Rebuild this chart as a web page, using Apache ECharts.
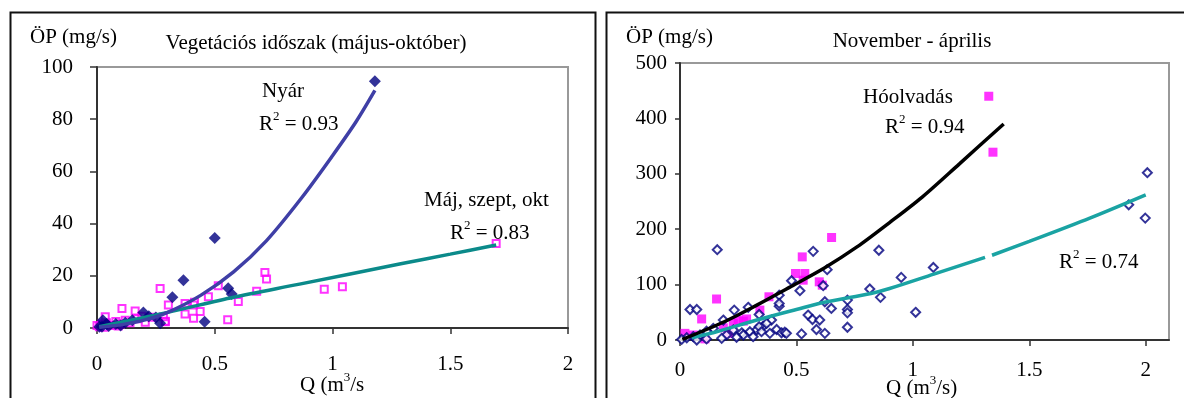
<!DOCTYPE html>
<html><head><meta charset="utf-8">
<script src="https://cdn.jsdelivr.net/npm/echarts@6/dist/echarts.min.js"></script>
<style>html,body{margin:0;padding:0;background:#fff}#c{width:1184px;height:398px}</style>
</head><body><div id="c"></div>
<script>
const FONT = '"Liberation Serif","Times New Roman",serif';

// ---------- Left chart: Vegetációs időszak (május-október) ----------
const leftTitle = 'Vegetációs időszak (május-október)';
const leftXTicks = [0, 0.5, 1, 1.5, 2];
const leftYTicks = [0, 20, 40, 60, 80, 100];
// Nyár (summer) – filled navy diamonds
const nyarPts = [
  [1.18,94.5],[0.50,34.5],[0.367,18.3],[0.32,11.8],[0.557,15.2],[0.572,13],[0.457,2.4],[0.268,1.8],
  [0.197,5.9],[0.22,4.5],[0.025,3],[0.021,0.5],[0.05,0.8],[0.08,1.5],[0.12,2],[0.15,3],[0.25,4],
  [0.01,0.5],[0.1,1],[0.04,1.5]
];
// Máj, szept, okt – hollow magenta squares
const majPts = [
  [1.695,32.4],[0.965,14.8],[1.042,15.8],[0.713,21.3],[0.72,18.8],[0.678,14.1],[0.6,10.2],[0.555,3.2],
  [0.515,16.2],[0.473,12],[0.438,6.3],[0.41,3.7],[0.41,8.8],[0.414,9.9],[0.374,9.4],[0.374,5.4],
  [0.268,15.1],[0.303,8.8],[0.29,2.6],[0.282,4.3],[0.205,2.2],[0.162,6.5],[0.106,7.5],[0.035,4.3],
  [0.233,4.1],[0.01,0.5],[0.02,1.5],[0.04,2],[0.06,1],[0.08,2.5],[0.1,1.5],[0.12,3],[0.14,2],
  [0.17,3.5],[0.19,4.5],[0.0,1],[0.03,0.3],[0.09,0.8],[0.29,2.4]
];
// trend lines
const nyarTrend = [[0.01,0.3],[0.1,1.2],[0.2,3],[0.3,6],[0.44,12.5],[0.58,21.5],[0.72,33.5],[0.87,50],[1.0,66],[1.1,79],[1.18,91]];
const majTrend = [[0.01,0.5],[0.3,6],[0.58,11.8],[0.86,16.8],[1.29,24.6],[1.5,28.3],[1.695,31.8]];

// ---------- Right chart: November - április ----------
const rightTitle = 'November - április';
const rightXTicks = [0, 0.5, 1, 1.5, 2];
const rightYTicks = [0, 100, 200, 300, 400, 500];
// Hóolvadás (snowmelt) – filled magenta squares
const hoPts = [
  [1.326,440],[1.344,339],[0.651,185],[0.525,150],[0.496,120],[0.536,120],[0.529,108],[0.598,105],
  [0.611,99],[0.382,78],[0.343,54],[0.157,74],[0.093,38],[0.021,12],[0.286,38],[0.25,36],[0.229,30],
  [0.186,22],[0.107,2],[0.057,9],[0.21,12],[0.272,34]
];
// other Nov-Apr points – hollow navy diamonds
const novPts = [
  [2.007,302],[1.927,244],[1.998,220],[0.95,113],[1.088,131],[1.012,50],[0.854,162],[0.815,92],[0.861,77],
  [0.16,163],[0.043,55],[0.072,55],[0.233,54],[0.293,59],[0.34,46],[0.426,81],[0.426,61],[0.426,66],
  [0.479,107],[0.515,89],[0.572,160],[0.632,127],[0.615,98],[0.622,69],[0.65,57],[0.55,45],[0.569,37],
  [0.6,36],[0.586,19],[0.622,12],[0.522,11],[0.719,72],[0.719,55],[0.719,49],[0.719,23],
  [0.415,19],[0.436,13],[0.45,14],[0.357,25],[0.329,18],[0.3,15],[0.265,13],[0.393,36],[0.372,30],
  [0.34,24],[0.229,18],[0.2,9],[0.186,36],[0.143,21],[0.114,16],[0.086,9],[0.057,6],[0.029,4],
  [0.007,1],[0.072,0],[0.272,9],[0.314,6],[0.386,12],[0.457,12],[0.243,5],[0.179,3],[0.114,2],[0.35,15]
];
const hoTrend = [[0.01,1],[0.19,33],[0.33,63],[0.47,95],[0.62,130],[0.76,168],[0.9,212],[1.04,258],[1.2,318],[1.39,390]];
const novTrend = [[0.05,4],[0.15,14],[0.33,36],[0.5,55],[0.62,68],[0.82,84],[0.9,93],[1.09,119],[1.31,149],null,[1.34,153],[1.5,178],[1.76,220],[2.0,262]];

// ---------- chart ----------
const FS = 21;
const chart = echarts.init(document.getElementById('c'), null, {renderer: 'canvas'});
const txt = {fontFamily: FONT, fontSize: FS, color: '#000'};
const rich = {
  a: {fontFamily: FONT, fontSize: FS, lineHeight: 28, fill: '#000', color: '#000'},
  s: {fontFamily: FONT, fontSize: 13, lineHeight: 13, verticalAlign: 'top', fill: '#000', color: '#000'}
};
function label(text, x, y, align) {
  return {type: 'text', x: x, y: y, z: 100,
    style: {text: text, fill: '#000', font: FS + 'px ' + FONT, align: align || 'left', textAlign: align || 'left',
            verticalAlign: 'middle', textVerticalAlign: 'middle', rich: rich}};
}
function xAxisCfg(gi, max, ticks, margin) {
  return {type: 'value', gridIndex: gi, min: 0, max: max, interval: 0.5,
    axisLine: {show: true, lineStyle: {color: '#333', width: 2}},
    axisTick: {show: true, inside: false, length: 6, customValues: ticks, lineStyle: {color: '#333', width: 1.5}},
    axisLabel: {show: true, margin: margin, customValues: ticks, ...txt},
    splitLine: {show: false}};
}
function yAxisCfg(gi, max, interval, margin, tickLen) {
  return {type: 'value', gridIndex: gi, min: 0, max: max, interval: interval,
    axisLine: {show: true, lineStyle: {color: '#333', width: 2}},
    axisTick: {show: true, inside: false, length: tickLen, lineStyle: {color: '#333', width: 1.5}},
    axisLabel: {show: true, margin: margin, ...txt},
    splitLine: {show: false}};
}
const option = {
  animation: false,
  backgroundColor: '#fff',
  grid: [
    {left: 97, top: 67, width: 471, height: 261, show: true, borderColor: '#999', borderWidth: 2, backgroundColor: 'transparent'},
    {left: 680, top: 63, width: 489, height: 277, show: true, borderColor: '#999', borderWidth: 2, backgroundColor: 'transparent'}
  ],
  xAxis: [xAxisCfg(0, 2, leftXTicks, 26), xAxisCfg(1, 2.1, rightXTicks, 20)],
  yAxis: [yAxisCfg(0, leftYTicks[leftYTicks.length-1], 20, 24, 7), yAxisCfg(1, rightYTicks[rightYTicks.length-1], 100, 13, 5)],
  series: [
    {type: 'scatter', xAxisIndex: 0, yAxisIndex: 0, data: majPts, symbol: 'rect', symbolSize: 7,
     itemStyle: {color: 'rgba(255,255,255,0)', borderColor: '#FF00FF', borderWidth: 2}},
    {type: 'scatter', xAxisIndex: 0, yAxisIndex: 0, data: nyarPts, symbol: 'diamond', symbolSize: 12,
     itemStyle: {color: '#000080'}},
    {type: 'line', xAxisIndex: 0, yAxisIndex: 0, data: majTrend, showSymbol: false, smooth: 0.3,
     lineStyle: {color: '#0B8A8A', width: 3.5}},
    {type: 'line', xAxisIndex: 0, yAxisIndex: 0, data: nyarTrend, showSymbol: false, smooth: 0.3,
     lineStyle: {color: '#3F3FA6', width: 3.5}},
    {type: 'scatter', xAxisIndex: 1, yAxisIndex: 1, data: hoPts, symbol: 'rect', symbolSize: 9,
     itemStyle: {color: '#FF00FF'}},
    {type: 'scatter', xAxisIndex: 1, yAxisIndex: 1, data: novPts, symbol: 'diamond', symbolSize: 9,
     itemStyle: {color: '#fff', borderColor: '#000080', borderWidth: 2}},
    {type: 'line', xAxisIndex: 1, yAxisIndex: 1, data: novTrend, showSymbol: false, smooth: 0.3, connectNulls: false,
     lineStyle: {color: '#1AA3A3', width: 3.5}},
    {type: 'line', xAxisIndex: 1, yAxisIndex: 1, data: hoTrend, showSymbol: false, smooth: 0.3,
     lineStyle: {color: '#000', width: 3.5}}
  ],
  graphic: [
    {type: 'rect', z: 0, shape: {x: 10.5, y: 12.5, width: 585, height: 420}, style: {fill: 'none', stroke: '#111', lineWidth: 2}},
    {type: 'rect', z: 0, shape: {x: 606.5, y: 12.5, width: 600, height: 420}, style: {fill: 'none', stroke: '#111', lineWidth: 2}},
    label('{a|ÖP (mg/s)}', 30, 37),
    label('{a|' + leftTitle + '}', 316, 43, 'center'),
    label('{a|Q (m}{s|3}{a|/s}', 300, 385),
    label('{a|Nyár}', 262, 91),
    label('{a|R}{s|2}{a| = 0.93}', 259, 124),
    label('{a|Máj, szept, okt}', 424, 200),
    label('{a|R}{s|2}{a| = 0.83}', 450, 233),
    label('{a|ÖP (mg/s)}', 626, 37),
    label('{a|' + rightTitle + '}', 912, 41, 'center'),
    label('{a|Q (m}{s|3}{a|/s)}', 886, 388),
    label('{a|Hóolvadás}', 863, 97),
    label('{a|R}{s|2}{a| = 0.94}', 885, 127),
    label('{a|R}{s|2}{a| = 0.74}', 1059, 262)
  ]
};
chart.setOption(option);
</script>
</body></html>
